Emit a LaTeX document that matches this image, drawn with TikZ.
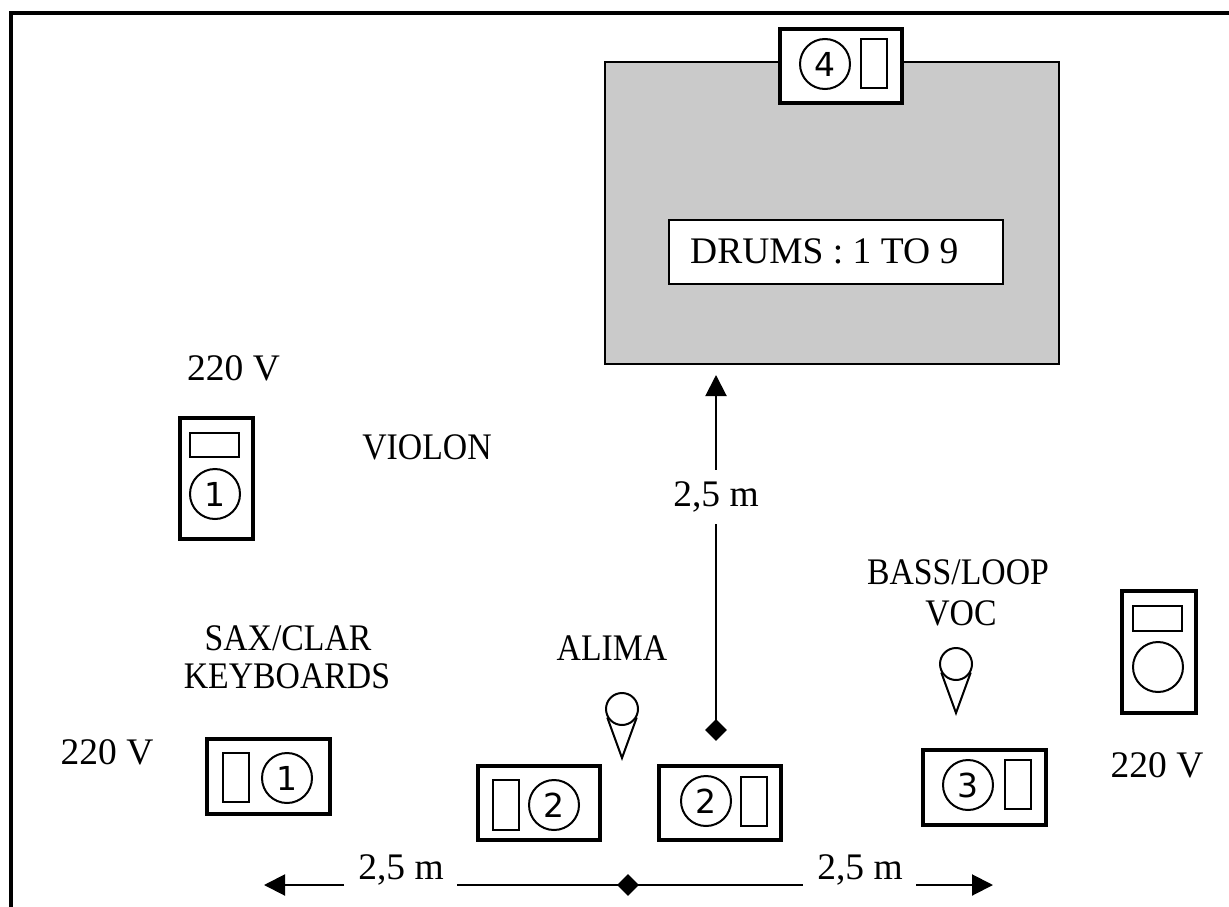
\documentclass[tikz,border=0pt]{standalone}
\usepackage{fontspec}
\setmainfont{Liberation Serif}
\newfontfamily\condfont[FakeStretch=0.9]{Liberation Serif}
\newfontfamily\digitfont{DejaVu Sans}
\usetikzlibrary{arrows.meta,shapes.geometric}
\definecolor{riser}{HTML}{CACACA}
\begin{document}
\begin{tikzpicture}[x=1pt,y=-1pt,
  txt/.style={font=\fontsize{37.5}{44}\selectfont, inner sep=0pt, align=center},
  ctxt/.style={font=\condfont\fontsize{37.5}{44}\selectfont, inner sep=0pt, align=center},
  numc/.style={circle, draw, line width=2pt, minimum size=50pt, inner sep=0pt, font=\digitfont\fontsize{33}{33}\selectfont},
  thickbox/.style={draw, line width=4pt, fill=white, minimum width=#1, inner sep=0pt},
  slot/.style={draw, line width=2pt, inner sep=0pt},
  mic/.style={circle, draw, line width=2pt, minimum size=32pt, inner sep=0pt},
  conel/.style={line width=2pt, line join=miter},
  dim/.style={line width=2pt},
  tipv/.style={-{Triangle[width=21pt,length=21pt]}},
  dia/.style={diamond, fill=black, minimum size=22pt, inner sep=0pt},
]
\useasboundingbox (0,0) rectangle (1229,907);
% frame
\coordinate (fbl) at (11,960);
\coordinate (ftl) at (11,13);
\coordinate (ftr) at (1280,13);
\draw[line width=4pt] (fbl) -- (ftl) -- (ftr);

% drum riser
\node[draw, fill=riser, line width=2pt, minimum width=454pt, minimum height=302pt, inner sep=0pt] (riser) at (832,213) {};
\node[draw, fill=white, line width=2pt, minimum width=334pt, minimum height=64pt, inner sep=0pt] (drumsbox) at (836,252) {};
\node[txt, anchor=west] (drums) at (690,251) {DRUMS : 1 TO 9};
\node[thickbox=122pt, minimum height=74pt] (box4) at (841,66) {};
\node[numc] (c4) at (825,64) {4};
\node[slot, minimum width=26pt, minimum height=49pt] (s4) at (874,63.5) {};

% violin monitor
\node[txt] (v220) at (233.5,368) {220 V};
\node[thickbox=73pt, minimum height=121pt] (ampv) at (216.5,478.5) {};
\node[slot, minimum width=49pt, minimum height=24pt] (ampvs) at (214.5,445) {};
\node[numc] (ampvc) at (215,494) {1};
\node[ctxt] (violon) at (427,447) {VIOLON};

% right monitor
\node[thickbox=74pt, minimum height=122pt] (ampr) at (1159,652) {};
\node[slot, minimum width=49pt, minimum height=25pt] (amprs) at (1157.5,618.5) {};
\node[numc] (amprc) at (1158,667) {};
\node[txt] (r220) at (1157,765) {220 V};

% sax / keyboards
\node[ctxt] (sax) at (288,638) {SAX/CLAR};
\node[ctxt] (kb) at (287,676) {KEYBOARDS};
\node[txt] (l220) at (107,752) {220 V};
\node[thickbox=123pt, minimum height=75pt] (box1) at (268.5,776.5) {};
\node[slot, minimum width=26pt, minimum height=49pt] (s1) at (236,777.5) {};
\node[numc] (c1) at (287,778) {1};

% alima
\node[ctxt] (alima) at (612,648) {ALIMA};
\node[mic] (m1) at (622,709) {};
\coordinate (m1t) at (622,758);
\draw[conel] (m1.-150) -- (m1t) -- (m1.-30);
\node[thickbox=122pt, minimum height=74pt] (box2l) at (539,803) {};
\node[slot, minimum width=26pt, minimum height=50pt] (s2l) at (506,805) {};
\node[numc] (c2l) at (554,805) {2};
\node[thickbox=122pt, minimum height=74pt] (box2r) at (720,803) {};
\node[numc] (c2r) at (706,801) {2};
\node[slot, minimum width=26pt, minimum height=49pt] (s2r) at (754,801.5) {};

% bass / loop
\node[ctxt] (bass) at (958,572) {BASS/LOOP};
\node[ctxt] (voc) at (961,613) {VOC};
\node[mic] (m2) at (956,664) {};
\coordinate (m2t) at (956,713);
\draw[conel] (m2.-150) -- (m2t) -- (m2.-30);
\node[thickbox=123pt, minimum height=75pt] (box3) at (984.5,787.5) {};
\node[numc] (c3) at (968,785) {3};
\node[slot, minimum width=26pt, minimum height=49pt] (s3) at (1018,784.5) {};

% vertical dimension
\node[dia] (dv) at (716,730) {};
\coordinate (tv) at (716,375);
\draw[dim, tipv] (dv.center) -- (tv);
\node[txt, fill=white, inner ysep=12pt] (lv) at (716,497) {2,5 m};

% horizontal dimension
\node[dia] (dh) at (628,885) {};
\coordinate (tl) at (264,885);
\coordinate (gl1) at (344,885);
\coordinate (gl2) at (457,885);
\coordinate (gr1) at (803,885);
\coordinate (gr2) at (916,885);
\coordinate (tr) at (993,885);
\draw[dim, tipv] (gl1) -- (tl);
\draw[dim] (gl2) -- (gr1);
\draw[dim, tipv] (gr2) -- (tr);
\node[txt, anchor=base] (lhl) at (401,879) {2,5 m};
\node[txt, anchor=base] (lhr) at (860,879) {2,5 m};
\end{tikzpicture}
\end{document}
